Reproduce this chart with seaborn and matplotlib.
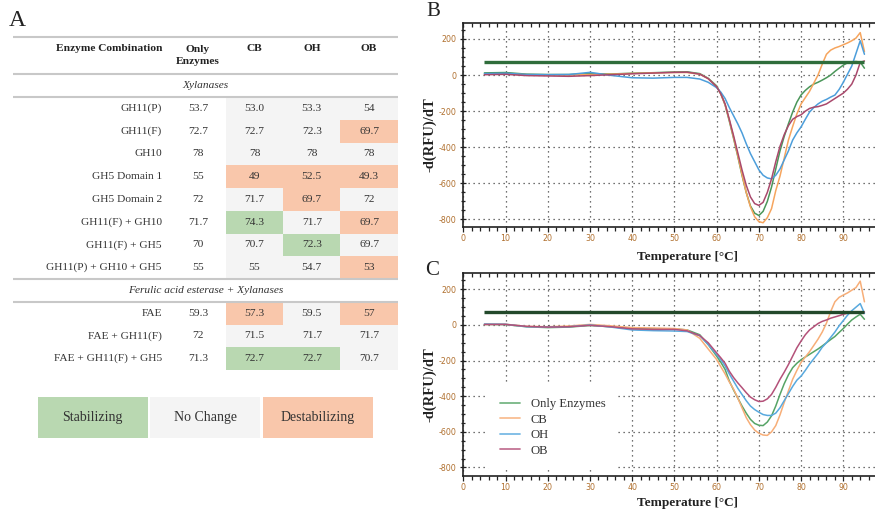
import numpy as np
import pandas as pd
import matplotlib
matplotlib.use("Agg")
import matplotlib.pyplot as plt
from matplotlib.colors import ListedColormap
from matplotlib.patches import Rectangle
from matplotlib.lines import Line2D
from matplotlib.ticker import MultipleLocator
import seaborn as sns

sns.set_theme(style="white")
plt.rcParams["font.family"] = ["Liberation Serif", "DejaVu Serif"]
plt.rcParams["axes.unicode_minus"] = False

# ---------------- Table: melting temperatures (°C) ----------------
xyl_rows = ["GH11(P)", "GH11(F)", "GH10", "GH5 Domain 1", "GH5 Domain 2",
            "GH11(F) + GH10", "GH11(F) + GH5", "GH11(P) + GH10 + GH5"]
xyl_only = ["53.7", "72.7", "78", "55", "72", "71.7", "70", "55"]
xyl_cb = ["53.0", "72.7", "78", "49", "71.7", "74.3", "70.7", "55"]
xyl_oh = ["53.3", "72.3", "78", "52.5", "69.7", "71.7", "72.3", "54.7"]
xyl_ob = ["54", "69.7", "78", "49.3", "72", "69.7", "69.7", "53"]

fae_rows = ["FAE", "FAE + GH11(F)", "FAE + GH11(F) + GH5"]
fae_only = ["59.3", "72", "71.3"]
fae_cb = ["57.3", "71.5", "72.7"]
fae_oh = ["59.5", "71.7", "72.7"]
fae_ob = ["57", "71.7", "70.7"]

section_titles = ["Xylanases", "Ferulic acid esterase + Xylanases"]
buffers = ["CB", "OH", "OB"]
effect_labels = ["Stabilizing", "No Change", "Destabilizing"]
shift_threshold = 1.0  # °C change counted as an effect

# ---------------- Melt curves: -d(RFU)/dT ----------------
temps = [5, 10, 15, 20, 25, 30, 35, 40, 45, 50, 53, 56, 58, 60,
         61, 62, 63, 64, 65, 66, 67, 68, 69, 70, 71, 72, 73, 74, 75, 76, 77, 78,
         79, 80, 81, 82, 83, 84, 85, 86, 87, 88, 89, 90, 91, 92, 93, 94, 95]
samples = ["Only Enzymes", "CB", "OH", "OB"]

b_only = [12, 14, 5, 3, 3, 8, 6, 10, 13, 17, 18, 8, -18, -60,
          -105, -165, -255, -350, -450, -555, -650, -725, -765, -778, -755, -700, -620, -520, -420, -340, -270, -205,
          -150, -110, -85, -65, -50, -40, -28, -15, 0, 20, 38, 55, 68, 73, 75, 72, 38]
b_cb = [5, 6, 2, 1, 0, 3, 5, 9, 12, 14, 14, 5, -20, -65,
        -105, -165, -250, -345, -445, -550, -650, -730, -785, -812, -818, -790, -740, -640, -560, -460, -360, -285,
        -215, -160, -125, -90, -45, 0, 60, 115, 138, 150, 158, 168, 178, 190, 205, 235, 130]
b_oh = [8, 10, 3, 2, 3, 15, -2, -15, -17, -13, -13, -22, -40, -70,
        -95, -130, -180, -225, -270, -320, -380, -435, -480, -525, -555, -570, -575, -555, -520, -470, -420, -360,
        -320, -287, -245, -205, -180, -160, -145, -135, -122, -111, -80, -40, 5, 50, 120, 190, 115]
b_ob = [2, 4, -3, -5, -7, -3, 2, 7, 11, 15, 16, 5, -20, -65,
        -105, -160, -245, -335, -430, -525, -610, -675, -712, -722, -705, -650, -575, -480, -395, -330, -280, -245,
        -230, -220, -200, -185, -178, -175, -168, -160, -145, -130, -115, -100, -78, -50, 0, 70, 78]

c_only = [3, 2, -10, -15, -12, -3, -10, -20, -22, -22, -28, -55, -110, -175,
          -210, -250, -315, -365, -410, -455, -495, -530, -553, -563, -565, -545, -510, -455, -390, -330, -280, -240,
          -215, -195, -180, -165, -150, -135, -118, -100, -82, -65, -42, -20, 5, 28, 45, 60, 32]
c_cb = [3, 4, -8, -10, -6, 3, -5, -15, -17, -20, -28, -75, -135, -194,
        -235, -275, -320, -360, -410, -465, -520, -560, -590, -608, -618, -620, -600, -565, -505, -435, -370, -305,
        -255, -210, -180, -150, -115, -80, -40, 10, 75, 130, 155, 168, 180, 195, 210, 246, 130]
c_oh = [5, 4, -10, -12, -10, 0, -12, -28, -32, -34, -37, -60, -110, -166,
        -195, -230, -275, -315, -355, -390, -425, -455, -475, -490, -503, -508, -508, -495, -465, -425, -385, -345,
        -310, -287, -255, -220, -190, -160, -125, -100, -70, -40, -5, 25, 55, 80, 100, 120, 65]
c_ob = [3, 3, -8, -12, -10, -2, -10, -22, -25, -25, -33, -60, -100, -157,
        -185, -215, -260, -295, -325, -352, -380, -405, -420, -430, -428, -415, -390, -350, -305, -265, -222, -175,
        -128, -90, -55, -28, -10, 8, 20, 28, 38, 45, 52, 60, 66, 70, 72, 72, 72]

threshold_span = [5, 95]
threshold_b = 75
threshold_c = 70

# ---------------- Figure layout (pixel helpers) ----------------
W, H = 875, 512
fig = plt.figure(figsize=(W / 100, H / 100), dpi=100)


def px_axes(x0, y0, x1, y1):
    return fig.add_axes([x0 / W, 1 - y1 / H, (x1 - x0) / W, (y1 - y0) / H])


canvas = fig.add_axes([0, 0, 1, 1])
canvas.set_xlim(0, W)
canvas.set_ylim(H, 0)
canvas.axis("off")

green, grey, orange = "#b9d8b1", "#f4f4f4", "#f9c7ab"
text_col = "#333333"

# ---- heatmap of effects ----
rows = xyl_rows + [None] + fae_rows
only_vals = xyl_only + [None] + fae_only
cols = [xyl_cb + [None] + fae_cb, xyl_oh + [None] + fae_oh, xyl_ob + [None] + fae_ob]

status = np.full((len(rows), len(buffers)), np.nan)
annot = np.full((len(rows), len(buffers)), "", dtype=object)
for i, ref in enumerate(only_vals):
    if ref is None:
        continue
    for j, col in enumerate(cols):
        d = float(col[i]) - float(ref)
        status[i, j] = 1 if d >= shift_threshold else (-1 if d <= -shift_threshold else 0)
        annot[i, j] = col[i]

ax_t = px_axes(226, 97, 397.7, 370)
sns.heatmap(status, ax=ax_t, cmap=ListedColormap([orange, grey, green]),
            vmin=-1.5, vmax=1.5, cbar=False, annot=annot, fmt="",
            annot_kws=dict(fontsize=8.2, color=text_col),
            xticklabels=False, yticklabels=False)

col_w = (397.7 - 226) / 3
row_h = (370 - 97) / 12


def tx(px):
    return (px - 226) / col_w


def ty(py):
    return (py - 97) / row_h


x_left, x_right = tx(13), 3.0
for yline in [ty(37), ty(74), 0, 8, 9]:
    ax_t.plot([x_left, x_right], [yline, yline], color="#c8c8c8", lw=1.5,
              clip_on=False, solid_capstyle="butt")

hdr_y = ty(48.3)
ax_t.text(tx(162), hdr_y, "Enzyme Combination", ha="right", va="center",
          fontsize=8.2, fontweight="bold", color="#222222")
ax_t.text(tx(198), ty(55.5), "Only\nEnzymes", ha="center", va="center",
          fontsize=8.2, fontweight="bold", color="#222222", linespacing=1.5)
for j, b in enumerate(buffers):
    ax_t.text(j + 0.5, hdr_y, b, ha="center", va="center", fontsize=8.2,
              fontweight="bold", color="#222222")

mid_x = (x_left + x_right) / 2
ax_t.text(mid_x, ty(85.5), section_titles[0], ha="center", va="center",
          fontsize=8.2, style="italic", color=text_col)
ax_t.text(mid_x, 8.5, section_titles[1], ha="center", va="center",
          fontsize=8.2, style="italic", color=text_col)

for i, (lab, ref) in enumerate(zip(rows, only_vals)):
    if lab is None:
        continue
    ax_t.text(tx(162), i + 0.5, lab, ha="right", va="center", fontsize=8.2, color=text_col)
    ax_t.text(tx(198), i + 0.5, ref, ha="center", va="center", fontsize=8.2, color=text_col)

# ---- effect key ----
for k, (lab, fc) in enumerate(zip(effect_labels, [green, grey, orange])):
    x0 = 37.7 + k * 112.6
    canvas.add_patch(Rectangle((x0, 397), 110, 41, facecolor=fc, edgecolor="none"))
    canvas.text(x0 + 55, 418, lab, ha="center", va="center", fontsize=10, color=text_col)

# ---- panel letters ----
canvas.text(17.5, 20, "A", ha="center", va="center", fontsize=17, color="#222222")
canvas.text(433.5, 12, "B", ha="center", va="center", fontsize=15, color="#222222")
canvas.text(432.5, 270.5, "C", ha="center", va="center", fontsize=15, color="#222222")

# ---------------- Melt curve panels ----------------
pal_b = {"Only Enzymes": "#4a9659", "CB": "#f6a55e", "OH": "#4c9edb", "OB": "#a9496c"}
pal_c = {"Only Enzymes": "#56a466", "CB": "#f7ae78", "OH": "#58a9de", "OB": "#b45179"}


def melt(series):
    df = pd.DataFrame(dict(zip(samples, series)))
    df["Temperature"] = temps
    return df.melt(id_vars="Temperature", var_name="Sample", value_name="dRFU")


def style_axes(ax, ylim, xlabel_y):
    ax.set_xlim(0, 97.5)
    ax.set_ylim(*ylim)
    ax.xaxis.set_major_locator(MultipleLocator(10))
    ax.xaxis.set_minor_locator(MultipleLocator(2))
    ax.yaxis.set_major_locator(MultipleLocator(200))
    ax.yaxis.set_minor_locator(MultipleLocator(50))
    ax.grid(True, which="major", linestyle=(0, (1, 3)), color="#444444", lw=0.9)
    ax.grid(False, which="minor")
    for s in ["left", "top", "bottom"]:
        ax.spines[s].set_visible(True)
        ax.spines[s].set_color("#222222")
        ax.spines[s].set_linewidth(1.2)
    ax.spines["right"].set_visible(False)
    ax.tick_params(axis="x", which="both", bottom=True, top=False, direction="out",
                   color="#222222", width=0.9)
    ax.tick_params(axis="x", which="major", length=3.5, pad=1.5)
    ax.tick_params(axis="x", which="minor", length=3)
    ax.tick_params(axis="y", which="both", left=True, direction="inout",
                   color="#222222", width=0.9)
    ax.tick_params(axis="y", which="major", length=5, pad=2.5)
    ax.tick_params(axis="y", which="minor", length=3.5)
    ax.tick_params(axis="both", labelsize=5.7, labelcolor="#b0702f",
                   labelfontfamily="DejaVu Sans")
    top = ax.secondary_xaxis("top")
    top.xaxis.set_major_locator(MultipleLocator(10))
    top.xaxis.set_minor_locator(MultipleLocator(2))
    top.tick_params(axis="x", which="both", direction="in", length=3,
                    color="#222222", width=0.9, labeltop=False)
    top.spines["top"].set_visible(False)
    ax.set_xlabel("Temperature [°C]", fontsize=9.5, fontweight="bold", color="#222222")
    ax.set_ylabel("-d(RFU)/dT", fontsize=10.5, fontweight="bold", color="#222222")
    ax.xaxis.set_label_coords(0.545, xlabel_y)
    ax.yaxis.set_label_coords(-0.066, 0.45)


ax_b = px_axes(463.3, 22.7, W, 226.7)
sns.lineplot(data=melt([b_only, b_cb, b_oh, b_ob]), x="Temperature", y="dRFU",
             hue="Sample", hue_order=samples, palette=pal_b, ax=ax_b,
             linewidth=1.1, legend=False, errorbar=None)
ax_b.hlines(threshold_b, *threshold_span, color="#2f6d3b", lw=2.4, zorder=3)
style_axes(ax_b, (-840, 290), -0.118)

ax_c = px_axes(463.3, 273.3, W, 476)
sns.lineplot(data=melt([c_only, c_cb, c_oh, c_ob]), x="Temperature", y="dRFU",
             hue="Sample", hue_order=samples, palette=pal_c, ax=ax_c,
             linewidth=1.1, legend=False, errorbar=None)
ax_c.hlines(threshold_c, *threshold_span, color="#23492b", lw=2.4, zorder=3)
style_axes(ax_c, (-848, 290), -0.106)

handles = [Line2D([0], [0], color=pal_c[s], lw=1.3, alpha=0.8) for s in samples]
leg = ax_c.legend(handles, samples, loc="upper left", bbox_to_anchor=(0.0576, 0.447),
                  frameon=True, facecolor="white", edgecolor="none", framealpha=1,
                  fontsize=9.1, handlelength=1.6, handletextpad=0.85,
                  labelspacing=0.28, borderpad=1.0, borderaxespad=0)
for t in leg.get_texts():
    t.set_color(text_col)

fig.savefig("out.png", dpi=100)
